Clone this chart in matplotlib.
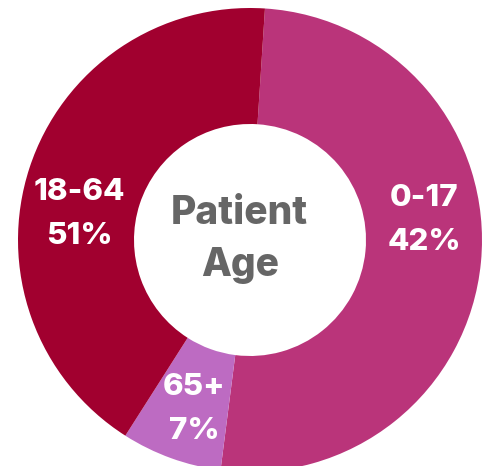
import numpy as np
import matplotlib
matplotlib.use("Agg")
import matplotlib.pyplot as plt

# wedge sizes as drawn in the picture (clockwise from the top)
groups = ["0-17", "65+", "18-64"]
sizes = [51, 7, 42]
shown_pct = ["42%", "7%", "51%"]
colors = ["#BA347A", "#BD6BC2", "#A1002F"]

plt.rcParams['font.family'] = ['Inter', 'DejaVu Sans']

fig = plt.figure(figsize=(4.92, 4.66), dpi=100)
ax = fig.add_axes([0, 0, 1, 1])

R = 232.0
cx, cy = 250.0, 240.0

def px(x, y):
    # pixel -> data coords
    return (x - cx) / R, (cy - y) / R

ax.pie(sizes, colors=colors, startangle=86.3, counterclock=False,
       radius=1.0, wedgeprops=dict(width=0.5, linewidth=0))

ax.set_xlim(-cx / R, (492 - cx) / R)
ax.set_ylim(-(466 - cy) / R, cy / R)
ax.set_aspect('auto')
ax.axis('off')

# slice labels
label_pos = {"0-17": (424, 198), "65+": (194, 387), "18-64": (79, 192)}
for g, p in zip(groups, shown_pct):
    x, y = label_pos[g]
    ax.text(*px(x, y), g, color="white", fontsize=22.5, fontweight="heavy",
            ha="center", va="center")
    ax.text(*px(x, y + 44), p, color="white", fontsize=22.5, fontweight="heavy",
            ha="center", va="center")

ax.text(*px(239, 214), "Patient", color="#666666", fontsize=28,
        fontweight="heavy", ha="center", va="center")
ax.text(*px(240, 266), "Age", color="#666666", fontsize=28,
        fontweight="heavy", ha="center", va="center")

fig.savefig("out.png", dpi=100)
